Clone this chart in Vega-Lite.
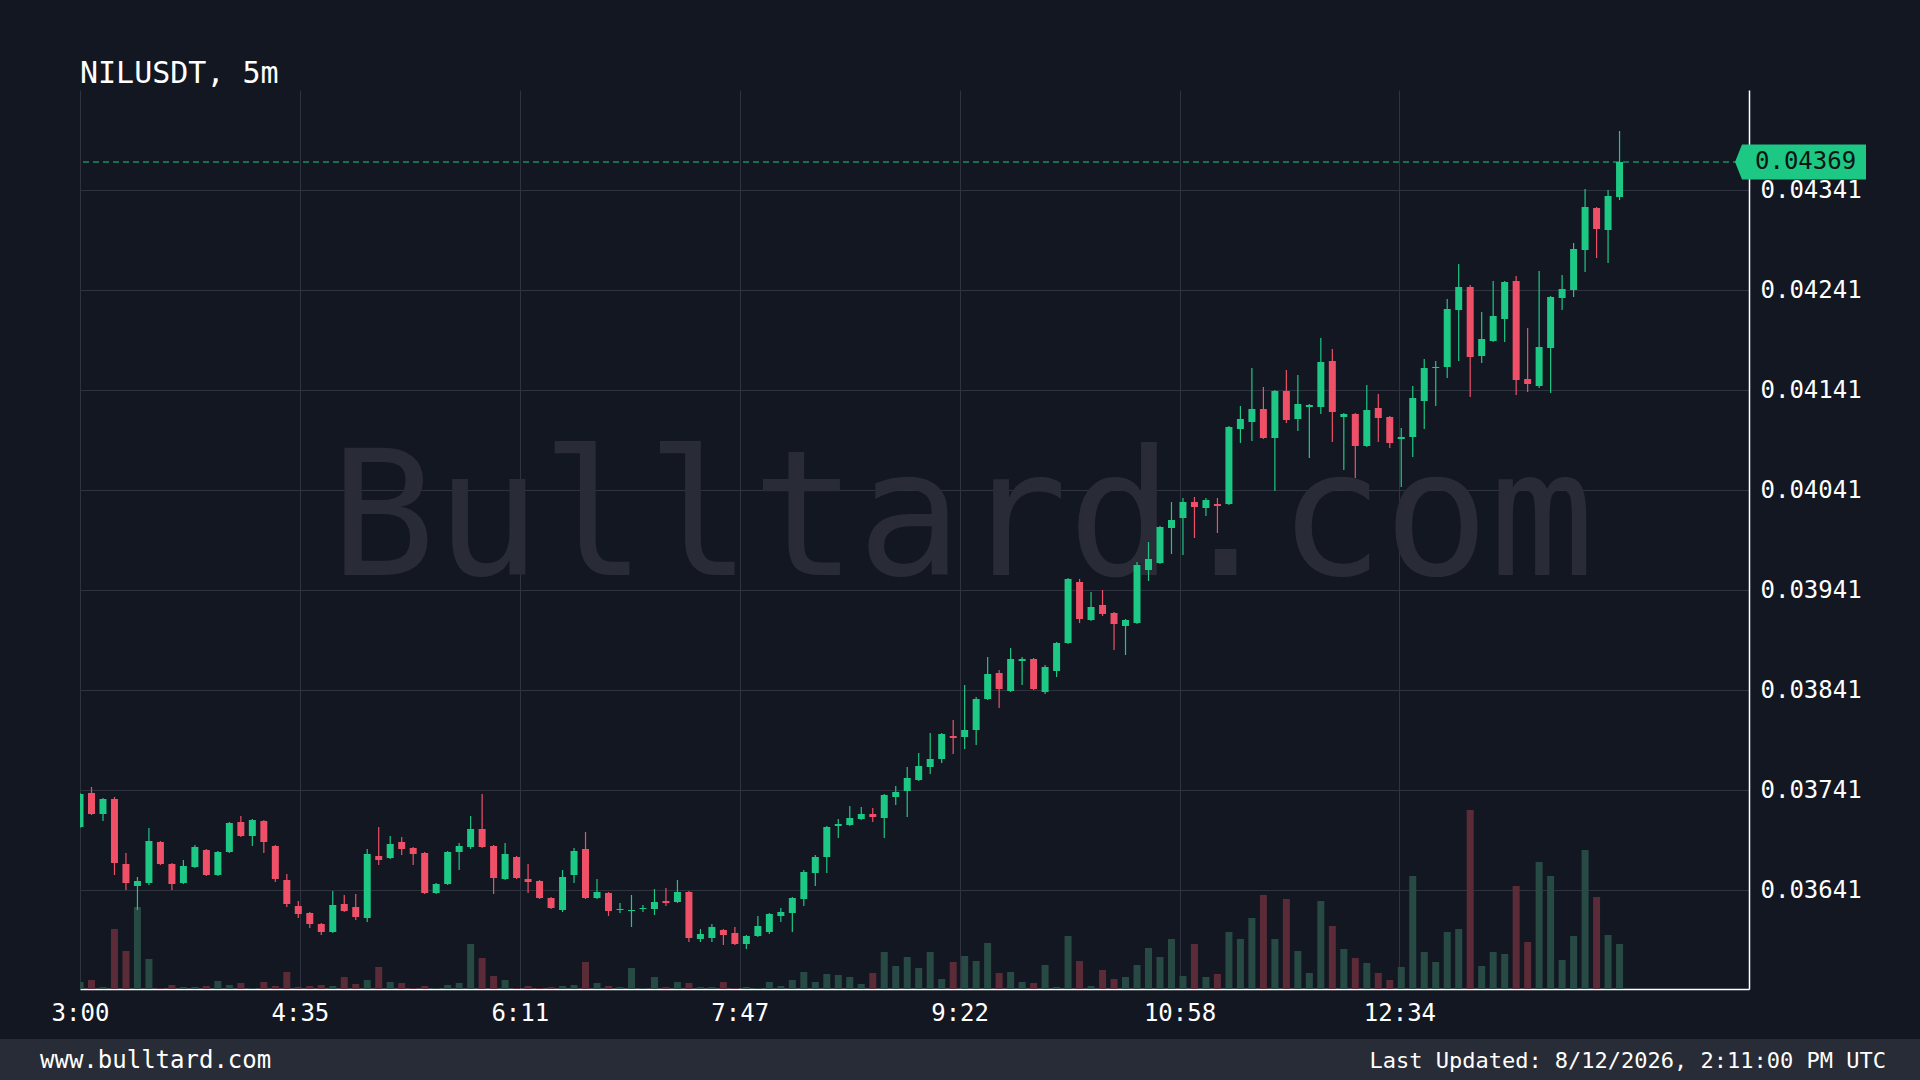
{
  "$schema": "https://vega.github.io/schema/vega-lite/v6.json",
  "background": "#131722",
  "padding": {"left": 0, "top": 59, "right": 0, "bottom": 0},
  "spacing": 14,
  "config": {
    "font": "DejaVu Sans Mono",
    "view": {"stroke": null},
    "axis": {"labelFont": "DejaVu Sans Mono", "titleFont": "DejaVu Sans Mono"}
  },
  "vconcat": [
    {
      "spacing": 0,
      "hconcat": [
        {
          "width": 1,
          "height": 1,
          "data": {"values": []},
          "mark": {"type": "text"},
          "encoding": {}
        },
        {
          "width": 1669,
          "height": 899,
          "title": {"text": "NILUSDT, 5m", "anchor": "start", "frame": "group", "fontSize": 30, "fontWeight": "normal", "color": "#ffffff", "baseline": "alphabetic", "offset": -23, "font": "DejaVu Sans Mono"},
          "data": {"values": [
            {"t":"2026-08-12T03:00:00Z","o":0.03704,"h":0.03738,"l":0.03703,"c":0.03737,"v":7},
            {"t":"2026-08-12T03:05:00Z","o":0.03738,"h":0.03744,"l":0.03716,"c":0.03717,"v":9},
            {"t":"2026-08-12T03:10:00Z","o":0.03717,"h":0.03733,"l":0.0371,"c":0.03732,"v":2},
            {"t":"2026-08-12T03:15:00Z","o":0.03732,"h":0.03734,"l":0.03656,"c":0.03668,"v":60},
            {"t":"2026-08-12T03:20:00Z","o":0.03667,"h":0.03678,"l":0.03641,"c":0.03648,"v":38},
            {"t":"2026-08-12T03:25:00Z","o":0.03645,"h":0.03654,"l":0.03621,"c":0.0365,"v":82},
            {"t":"2026-08-12T03:30:00Z","o":0.03648,"h":0.03703,"l":0.03646,"c":0.0369,"v":30},
            {"t":"2026-08-12T03:35:00Z","o":0.03689,"h":0.0369,"l":0.03666,"c":0.03667,"v":1},
            {"t":"2026-08-12T03:40:00Z","o":0.03667,"h":0.03668,"l":0.03641,"c":0.03647,"v":4},
            {"t":"2026-08-12T03:45:00Z","o":0.03648,"h":0.03671,"l":0.03647,"c":0.03665,"v":2},
            {"t":"2026-08-12T03:50:00Z","o":0.03664,"h":0.03686,"l":0.03663,"c":0.03684,"v":2},
            {"t":"2026-08-12T03:55:00Z","o":0.03681,"h":0.03682,"l":0.03655,"c":0.03656,"v":3},
            {"t":"2026-08-12T04:00:00Z","o":0.03656,"h":0.0368,"l":0.03655,"c":0.03679,"v":8},
            {"t":"2026-08-12T04:05:00Z","o":0.03679,"h":0.03709,"l":0.03678,"c":0.03708,"v":4},
            {"t":"2026-08-12T04:10:00Z","o":0.03709,"h":0.03715,"l":0.03694,"c":0.03695,"v":6},
            {"t":"2026-08-12T04:15:00Z","o":0.03695,"h":0.03712,"l":0.03685,"c":0.03711,"v":1},
            {"t":"2026-08-12T04:20:00Z","o":0.0371,"h":0.03711,"l":0.03678,"c":0.03689,"v":7},
            {"t":"2026-08-12T04:25:00Z","o":0.03685,"h":0.03686,"l":0.03649,"c":0.03652,"v":3},
            {"t":"2026-08-12T04:30:00Z","o":0.03651,"h":0.03657,"l":0.03624,"c":0.03627,"v":17},
            {"t":"2026-08-12T04:35:00Z","o":0.03625,"h":0.0363,"l":0.03613,"c":0.03617,"v":2},
            {"t":"2026-08-12T04:40:00Z","o":0.03618,"h":0.03619,"l":0.03603,"c":0.03607,"v":3},
            {"t":"2026-08-12T04:45:00Z","o":0.03607,"h":0.03608,"l":0.03596,"c":0.03599,"v":4},
            {"t":"2026-08-12T04:50:00Z","o":0.03599,"h":0.0364,"l":0.03598,"c":0.03626,"v":3},
            {"t":"2026-08-12T04:55:00Z","o":0.03627,"h":0.03636,"l":0.03619,"c":0.0362,"v":12},
            {"t":"2026-08-12T05:00:00Z","o":0.03624,"h":0.03637,"l":0.03611,"c":0.03614,"v":5},
            {"t":"2026-08-12T05:05:00Z","o":0.03613,"h":0.03682,"l":0.03609,"c":0.03677,"v":9},
            {"t":"2026-08-12T05:10:00Z","o":0.03675,"h":0.03704,"l":0.03666,"c":0.03671,"v":22},
            {"t":"2026-08-12T05:15:00Z","o":0.03673,"h":0.03695,"l":0.03672,"c":0.03687,"v":7},
            {"t":"2026-08-12T05:20:00Z","o":0.03689,"h":0.03694,"l":0.03676,"c":0.03682,"v":6},
            {"t":"2026-08-12T05:25:00Z","o":0.03683,"h":0.03684,"l":0.03666,"c":0.03677,"v":1},
            {"t":"2026-08-12T05:30:00Z","o":0.03678,"h":0.03679,"l":0.03637,"c":0.03638,"v":3},
            {"t":"2026-08-12T05:35:00Z","o":0.03638,"h":0.03648,"l":0.03637,"c":0.03647,"v":1},
            {"t":"2026-08-12T05:40:00Z","o":0.03647,"h":0.0368,"l":0.03646,"c":0.03679,"v":4},
            {"t":"2026-08-12T05:45:00Z","o":0.03679,"h":0.03688,"l":0.03661,"c":0.03685,"v":6},
            {"t":"2026-08-12T05:50:00Z","o":0.03684,"h":0.03715,"l":0.03682,"c":0.03702,"v":45},
            {"t":"2026-08-12T05:55:00Z","o":0.03702,"h":0.03737,"l":0.03683,"c":0.03684,"v":31},
            {"t":"2026-08-12T06:00:00Z","o":0.03685,"h":0.03686,"l":0.03637,"c":0.03653,"v":13},
            {"t":"2026-08-12T06:05:00Z","o":0.03652,"h":0.03688,"l":0.03651,"c":0.03677,"v":9},
            {"t":"2026-08-12T06:10:00Z","o":0.03674,"h":0.03675,"l":0.03652,"c":0.03653,"v":1},
            {"t":"2026-08-12T06:15:00Z","o":0.03652,"h":0.03667,"l":0.03638,"c":0.03649,"v":3},
            {"t":"2026-08-12T06:20:00Z","o":0.0365,"h":0.03651,"l":0.03632,"c":0.03633,"v":1},
            {"t":"2026-08-12T06:25:00Z","o":0.03633,"h":0.03634,"l":0.03622,"c":0.03623,"v":2},
            {"t":"2026-08-12T06:30:00Z","o":0.03621,"h":0.03661,"l":0.03619,"c":0.03654,"v":3},
            {"t":"2026-08-12T06:35:00Z","o":0.03656,"h":0.03683,"l":0.03648,"c":0.0368,"v":4},
            {"t":"2026-08-12T06:40:00Z","o":0.03682,"h":0.03699,"l":0.03632,"c":0.03633,"v":27},
            {"t":"2026-08-12T06:45:00Z","o":0.03633,"h":0.03652,"l":0.03632,"c":0.03639,"v":6},
            {"t":"2026-08-12T06:50:00Z","o":0.03638,"h":0.03639,"l":0.03615,"c":0.0362,"v":3},
            {"t":"2026-08-12T06:55:00Z","o":0.03621,"h":0.03628,"l":0.03618,"c":0.03622,"v":2},
            {"t":"2026-08-12T07:00:00Z","o":0.0362,"h":0.03636,"l":0.03604,"c":0.03621,"v":21},
            {"t":"2026-08-12T07:05:00Z","o":0.03622,"h":0.03626,"l":0.03619,"c":0.03623,"v":1},
            {"t":"2026-08-12T07:10:00Z","o":0.03622,"h":0.03642,"l":0.03616,"c":0.03629,"v":12},
            {"t":"2026-08-12T07:15:00Z","o":0.0363,"h":0.03643,"l":0.03625,"c":0.03628,"v":2},
            {"t":"2026-08-12T07:20:00Z","o":0.03629,"h":0.03651,"l":0.03628,"c":0.03639,"v":7},
            {"t":"2026-08-12T07:25:00Z","o":0.03639,"h":0.0364,"l":0.03589,"c":0.03593,"v":6},
            {"t":"2026-08-12T07:30:00Z","o":0.03592,"h":0.03602,"l":0.03589,"c":0.03597,"v":2},
            {"t":"2026-08-12T07:35:00Z","o":0.03593,"h":0.03607,"l":0.03589,"c":0.03604,"v":2},
            {"t":"2026-08-12T07:40:00Z","o":0.03601,"h":0.03602,"l":0.03586,"c":0.03596,"v":7},
            {"t":"2026-08-12T07:45:00Z","o":0.03598,"h":0.03604,"l":0.03586,"c":0.03587,"v":1},
            {"t":"2026-08-12T07:50:00Z","o":0.03587,"h":0.03596,"l":0.03582,"c":0.03595,"v":2},
            {"t":"2026-08-12T07:55:00Z","o":0.03595,"h":0.03615,"l":0.03594,"c":0.03605,"v":1},
            {"t":"2026-08-12T08:00:00Z","o":0.03599,"h":0.03618,"l":0.03597,"c":0.03617,"v":7},
            {"t":"2026-08-12T08:05:00Z","o":0.03615,"h":0.03623,"l":0.03609,"c":0.03619,"v":3},
            {"t":"2026-08-12T08:10:00Z","o":0.03618,"h":0.03634,"l":0.03599,"c":0.03633,"v":9},
            {"t":"2026-08-12T08:15:00Z","o":0.03632,"h":0.03661,"l":0.03625,"c":0.03659,"v":17},
            {"t":"2026-08-12T08:20:00Z","o":0.03658,"h":0.03676,"l":0.03645,"c":0.03674,"v":7},
            {"t":"2026-08-12T08:25:00Z","o":0.03674,"h":0.03705,"l":0.03658,"c":0.03704,"v":15},
            {"t":"2026-08-12T08:30:00Z","o":0.03705,"h":0.03712,"l":0.03693,"c":0.03707,"v":14},
            {"t":"2026-08-12T08:35:00Z","o":0.03706,"h":0.03725,"l":0.03705,"c":0.03713,"v":12},
            {"t":"2026-08-12T08:40:00Z","o":0.03712,"h":0.03724,"l":0.03711,"c":0.03717,"v":5},
            {"t":"2026-08-12T08:45:00Z","o":0.03717,"h":0.03723,"l":0.03709,"c":0.03714,"v":16},
            {"t":"2026-08-12T08:50:00Z","o":0.03713,"h":0.03737,"l":0.03693,"c":0.03736,"v":37},
            {"t":"2026-08-12T08:55:00Z","o":0.03734,"h":0.03745,"l":0.03726,"c":0.03739,"v":23},
            {"t":"2026-08-12T09:00:00Z","o":0.0374,"h":0.03764,"l":0.03714,"c":0.03753,"v":32},
            {"t":"2026-08-12T09:05:00Z","o":0.03751,"h":0.03778,"l":0.0375,"c":0.03765,"v":21},
            {"t":"2026-08-12T09:10:00Z","o":0.03764,"h":0.03798,"l":0.03757,"c":0.03772,"v":37},
            {"t":"2026-08-12T09:15:00Z","o":0.03772,"h":0.03798,"l":0.03768,"c":0.03797,"v":10},
            {"t":"2026-08-12T09:20:00Z","o":0.03795,"h":0.03811,"l":0.03777,"c":0.03793,"v":27},
            {"t":"2026-08-12T09:25:00Z","o":0.03794,"h":0.03846,"l":0.03782,"c":0.03801,"v":33},
            {"t":"2026-08-12T09:30:00Z","o":0.03801,"h":0.03834,"l":0.03786,"c":0.03832,"v":28},
            {"t":"2026-08-12T09:35:00Z","o":0.03832,"h":0.03874,"l":0.03831,"c":0.03857,"v":46},
            {"t":"2026-08-12T09:40:00Z","o":0.03858,"h":0.03861,"l":0.03823,"c":0.03842,"v":16},
            {"t":"2026-08-12T09:45:00Z","o":0.0384,"h":0.03883,"l":0.03839,"c":0.03872,"v":17},
            {"t":"2026-08-12T09:50:00Z","o":0.0387,"h":0.03874,"l":0.03846,"c":0.03872,"v":7},
            {"t":"2026-08-12T09:55:00Z","o":0.03872,"h":0.03873,"l":0.03841,"c":0.03842,"v":6},
            {"t":"2026-08-12T10:00:00Z","o":0.03839,"h":0.03866,"l":0.03837,"c":0.03864,"v":24},
            {"t":"2026-08-12T10:05:00Z","o":0.0386,"h":0.03889,"l":0.03854,"c":0.03888,"v":2},
            {"t":"2026-08-12T10:10:00Z","o":0.03888,"h":0.03953,"l":0.03887,"c":0.03952,"v":53},
            {"t":"2026-08-12T10:15:00Z","o":0.03949,"h":0.03952,"l":0.03908,"c":0.03912,"v":28},
            {"t":"2026-08-12T10:20:00Z","o":0.03911,"h":0.03939,"l":0.0391,"c":0.03924,"v":3},
            {"t":"2026-08-12T10:25:00Z","o":0.03926,"h":0.03941,"l":0.03915,"c":0.03917,"v":19},
            {"t":"2026-08-12T10:30:00Z","o":0.03918,"h":0.03919,"l":0.03881,"c":0.03907,"v":10},
            {"t":"2026-08-12T10:35:00Z","o":0.03905,"h":0.03912,"l":0.03876,"c":0.03911,"v":12},
            {"t":"2026-08-12T10:40:00Z","o":0.03908,"h":0.03969,"l":0.03907,"c":0.03966,"v":24},
            {"t":"2026-08-12T10:45:00Z","o":0.03961,"h":0.03989,"l":0.0395,"c":0.03972,"v":41},
            {"t":"2026-08-12T10:50:00Z","o":0.03968,"h":0.04005,"l":0.03967,"c":0.04004,"v":32},
            {"t":"2026-08-12T10:55:00Z","o":0.04003,"h":0.04029,"l":0.03977,"c":0.04011,"v":50},
            {"t":"2026-08-12T11:00:00Z","o":0.04013,"h":0.04033,"l":0.03976,"c":0.04029,"v":13},
            {"t":"2026-08-12T11:05:00Z","o":0.04029,"h":0.04034,"l":0.03993,"c":0.04024,"v":45},
            {"t":"2026-08-12T11:10:00Z","o":0.04023,"h":0.04033,"l":0.04015,"c":0.04031,"v":12},
            {"t":"2026-08-12T11:15:00Z","o":0.04027,"h":0.04033,"l":0.03998,"c":0.04025,"v":15},
            {"t":"2026-08-12T11:20:00Z","o":0.04027,"h":0.04105,"l":0.04026,"c":0.04104,"v":57},
            {"t":"2026-08-12T11:25:00Z","o":0.04102,"h":0.04125,"l":0.04088,"c":0.04112,"v":50},
            {"t":"2026-08-12T11:30:00Z","o":0.04109,"h":0.04163,"l":0.0409,"c":0.04122,"v":71},
            {"t":"2026-08-12T11:35:00Z","o":0.04122,"h":0.04144,"l":0.04092,"c":0.04093,"v":94},
            {"t":"2026-08-12T11:40:00Z","o":0.04093,"h":0.04141,"l":0.0404,"c":0.0414,"v":50},
            {"t":"2026-08-12T11:45:00Z","o":0.0414,"h":0.04161,"l":0.04108,"c":0.04111,"v":90},
            {"t":"2026-08-12T11:50:00Z","o":0.04112,"h":0.04156,"l":0.041,"c":0.04127,"v":38},
            {"t":"2026-08-12T11:55:00Z","o":0.04124,"h":0.04127,"l":0.04073,"c":0.04126,"v":16},
            {"t":"2026-08-12T12:00:00Z","o":0.04124,"h":0.04193,"l":0.04117,"c":0.04169,"v":88},
            {"t":"2026-08-12T12:05:00Z","o":0.0417,"h":0.04182,"l":0.04089,"c":0.04119,"v":63},
            {"t":"2026-08-12T12:10:00Z","o":0.04114,"h":0.04118,"l":0.04061,"c":0.04117,"v":40},
            {"t":"2026-08-12T12:15:00Z","o":0.04117,"h":0.04118,"l":0.04053,"c":0.04085,"v":31},
            {"t":"2026-08-12T12:20:00Z","o":0.04085,"h":0.04146,"l":0.04084,"c":0.04121,"v":26},
            {"t":"2026-08-12T12:25:00Z","o":0.04123,"h":0.04137,"l":0.04089,"c":0.04113,"v":16},
            {"t":"2026-08-12T12:30:00Z","o":0.04114,"h":0.04115,"l":0.04083,"c":0.04088,"v":9},
            {"t":"2026-08-12T12:35:00Z","o":0.04092,"h":0.04103,"l":0.04044,"c":0.04094,"v":22},
            {"t":"2026-08-12T12:40:00Z","o":0.04094,"h":0.04145,"l":0.04074,"c":0.04133,"v":113},
            {"t":"2026-08-12T12:45:00Z","o":0.0413,"h":0.04172,"l":0.04102,"c":0.04163,"v":37},
            {"t":"2026-08-12T12:50:00Z","o":0.04163,"h":0.0417,"l":0.04125,"c":0.04164,"v":27},
            {"t":"2026-08-12T12:55:00Z","o":0.04164,"h":0.04232,"l":0.04153,"c":0.04222,"v":57},
            {"t":"2026-08-12T13:00:00Z","o":0.04221,"h":0.04267,"l":0.0417,"c":0.04244,"v":60},
            {"t":"2026-08-12T13:05:00Z","o":0.04244,"h":0.04246,"l":0.04134,"c":0.04174,"v":179},
            {"t":"2026-08-12T13:10:00Z","o":0.04175,"h":0.04219,"l":0.04168,"c":0.04192,"v":23},
            {"t":"2026-08-12T13:15:00Z","o":0.0419,"h":0.0425,"l":0.04189,"c":0.04215,"v":37},
            {"t":"2026-08-12T13:20:00Z","o":0.04212,"h":0.0425,"l":0.04189,"c":0.04249,"v":35},
            {"t":"2026-08-12T13:25:00Z","o":0.0425,"h":0.04255,"l":0.04136,"c":0.04151,"v":103},
            {"t":"2026-08-12T13:30:00Z","o":0.04152,"h":0.04203,"l":0.04139,"c":0.04147,"v":47},
            {"t":"2026-08-12T13:35:00Z","o":0.04145,"h":0.0426,"l":0.04143,"c":0.04184,"v":127},
            {"t":"2026-08-12T13:40:00Z","o":0.04183,"h":0.04235,"l":0.04138,"c":0.04234,"v":113},
            {"t":"2026-08-12T13:45:00Z","o":0.04233,"h":0.04256,"l":0.04221,"c":0.04242,"v":29},
            {"t":"2026-08-12T13:50:00Z","o":0.04241,"h":0.04288,"l":0.04234,"c":0.04282,"v":53},
            {"t":"2026-08-12T13:55:00Z","o":0.04281,"h":0.04342,"l":0.04259,"c":0.04324,"v":139},
            {"t":"2026-08-12T14:00:00Z","o":0.04323,"h":0.04324,"l":0.04273,"c":0.04302,"v":92},
            {"t":"2026-08-12T14:05:00Z","o":0.04301,"h":0.04341,"l":0.04268,"c":0.04335,"v":54},
            {"t":"2026-08-12T14:10:00Z","o":0.04334,"h":0.044,"l":0.04331,"c":0.04369,"v":45}
          ]},
          "layer": [
            {
              "mark": {"type": "bar", "size": 7, "clip": true},
              "encoding": {
                "x": {
                  "field": "t", "type": "temporal",
                  "scale": {"type": "utc", "nice": false, "padding": 0, "domain": [
                    {"year": 2026, "month": 8, "date": 12, "hours": 3, "minutes": 0, "seconds": 0, "utc": true},
                    {"year": 2026, "month": 8, "date": 12, "hours": 15, "minutes": 6, "seconds": 20, "utc": true}
                  ]},
                  "axis": {
                    "values": [
                      {"year": 2026, "month": 8, "date": 12, "hours": 3, "minutes": 0, "seconds": 0, "utc": true},
                      {"year": 2026, "month": 8, "date": 12, "hours": 4, "minutes": 35, "seconds": 42, "utc": true},
                      {"year": 2026, "month": 8, "date": 12, "hours": 6, "minutes": 11, "seconds": 24, "utc": true},
                      {"year": 2026, "month": 8, "date": 12, "hours": 7, "minutes": 47, "seconds": 6, "utc": true},
                      {"year": 2026, "month": 8, "date": 12, "hours": 9, "minutes": 22, "seconds": 48, "utc": true},
                      {"year": 2026, "month": 8, "date": 12, "hours": 10, "minutes": 58, "seconds": 30, "utc": true},
                      {"year": 2026, "month": 8, "date": 12, "hours": 12, "minutes": 34, "seconds": 12, "utc": true}
                    ],
                    "labelExpr": "utcFormat(datum.value, '%-H:%M')",
                    "title": null, "ticks": false, "labelPadding": 12,
                    "labelFontSize": 24, "labelColor": "#ffffff", "labelFlush": false, "labelOverlap": false,
                    "grid": true, "gridColor": "#2f333f", "gridWidth": 1,
                    "domain": true, "domainColor": "#ffffff", "domainWidth": 1.5
                  }
                },
                "y": {
                  "field": "v", "type": "quantitative",
                  "scale": {"domain": [0, 899], "nice": false, "padding": 0},
                  "axis": {"orient": "left", "labels": false, "ticks": false, "domain": false, "grid": false, "title": null, "minExtent": 79, "maxExtent": 79}
                },
                "color": {"condition": {"test": "datum.c >= datum.o", "value": "#284a45"}, "value": "#5b2b37"}
              }
            },
            {
              "layer": [
                {
                  "data": {"values": [{"w": "Bulltard.com"}]},
                  "mark": {"type": "text", "align": "center", "baseline": "alphabetic", "fontSize": 175, "color": "#292c36", "font": "DejaVu Sans Mono"},
                  "encoding": {
                    "x": {"datum": {"year": 2026, "month": 8, "date": 12, "hours": 9, "minutes": 24, "seconds": 0, "utc": true}, "type": "temporal"},
                    "y": {"datum": 0.03956, "type": "quantitative"},
                    "text": {"field": "w"}
                  }
                },
                {
                  "mark": {"type": "rule", "strokeWidth": 1.2, "clip": true},
                  "encoding": {
                    "x": {"field": "t", "type": "temporal"},
                    "y": {
                      "field": "l", "type": "quantitative",
                      "scale": {"domain": [0.03542, 0.04441], "nice": false, "zero": false, "padding": 0},
                      "axis": {
                        "orient": "right", "title": null,
                        "values": [0.03641, 0.03741, 0.03841, 0.03941, 0.04041, 0.04141, 0.04241, 0.04341],
                        "format": ".5f", "ticks": false, "labelPadding": 11,
                        "labelFontSize": 24, "labelColor": "#ffffff",
                        "grid": true, "gridColor": "#2f333f", "gridWidth": 1,
                        "domain": true, "domainColor": "#ffffff", "domainWidth": 1.5
                      }
                    },
                    "y2": {"field": "h"},
                    "color": {"condition": {"test": "datum.c >= datum.o", "value": "#1dc784"}, "value": "#ef5068"}
                  }
                },
                {
                  "mark": {"type": "bar", "size": 7, "clip": true},
                  "encoding": {
                    "x": {"field": "t", "type": "temporal"},
                    "y": {"field": "o", "type": "quantitative"},
                    "y2": {"field": "c"},
                    "color": {"condition": {"test": "datum.c >= datum.o", "value": "#1dc784"}, "value": "#ef5068"}
                  }
                },
                {
                  "transform": [{"aggregate": [{"op": "argmax", "field": "t", "as": "last"}]}],
                  "mark": {"type": "rule", "color": "#1dc784", "strokeDash": [6, 4], "strokeWidth": 1.2},
                  "encoding": {
                    "y": {"field": "last.c", "type": "quantitative"}
                  }
                },
                {
                  "transform": [{"aggregate": [{"op": "argmax", "field": "t", "as": "last"}]}],
                  "mark": {"type": "point", "shape": "M-0.212,0L-0.106,-0.265L1.773,-0.265L1.773,0.265L-0.106,0.265Z", "size": 17424, "filled": true, "color": "#1dc784", "opacity": 1, "strokeWidth": 0, "clip": false},
                  "encoding": {
                    "x": {"datum": {"year": 2026, "month": 8, "date": 12, "hours": 15, "minutes": 6, "seconds": 20, "utc": true}, "type": "temporal"},
                    "y": {"field": "last.c", "type": "quantitative"}
                  }
                },
                {
                  "transform": [{"aggregate": [{"op": "argmax", "field": "t", "as": "last"}]}],
                  "mark": {"type": "text", "align": "left", "baseline": "middle", "dx": 6, "fontSize": 24, "color": "#0c1512", "font": "DejaVu Sans Mono"},
                  "encoding": {
                    "x": {"datum": {"year": 2026, "month": 8, "date": 12, "hours": 15, "minutes": 6, "seconds": 20, "utc": true}, "type": "temporal"},
                    "y": {"field": "last.c", "type": "quantitative"},
                    "text": {"field": "last.c", "type": "quantitative", "format": ".5f"}
                  }
                }
              ]
            }
          ],
          "resolve": {"scale": {"y": "independent"}}
        }
      ]
    },
    {
      "width": 1920,
      "height": 43,
      "view": {"fill": "#282c36", "stroke": null},
      "data": {"values": [
        {"label": "www.bulltard.com", "side": "left"},
        {"label": "Last Updated: 8/12/2026, 2:11:00 PM UTC", "side": "right"}
      ]},
      "layer": [
        {
          "transform": [{"filter": "datum.side === 'left'"}],
          "mark": {"type": "text", "align": "left", "baseline": "middle", "fontSize": 24, "color": "#ffffff", "font": "DejaVu Sans Mono"},
          "encoding": {
            "x": {"field": "side", "type": "nominal", "scale": {"type": "point", "padding": 0, "domain": ["left", "right"], "range": [40, 1886]}, "axis": null},
            "text": {"field": "label"}
          }
        },
        {
          "transform": [{"filter": "datum.side === 'right'"}],
          "mark": {"type": "text", "align": "right", "baseline": "middle", "fontSize": 22, "color": "#ffffff", "font": "DejaVu Sans Mono"},
          "encoding": {
            "x": {"field": "side", "type": "nominal", "axis": null},
            "text": {"field": "label"}
          }
        }
      ]
    }
  ]
}
